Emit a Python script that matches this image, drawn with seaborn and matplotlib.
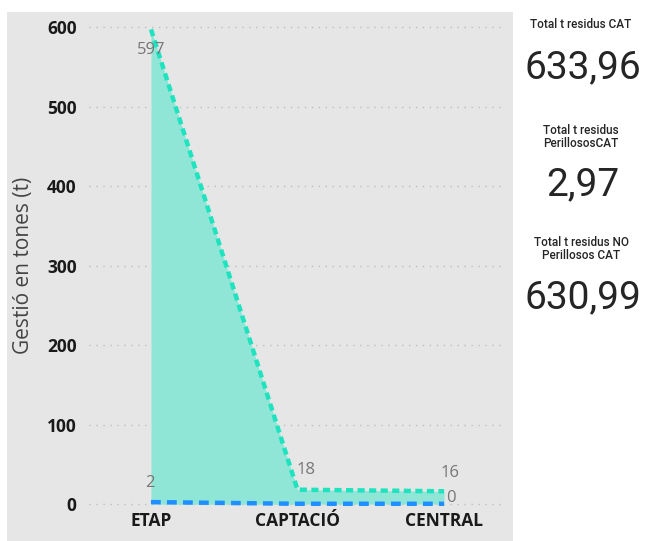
import matplotlib
matplotlib.use("Agg")
import matplotlib.pyplot as plt
import seaborn as sns
import pandas as pd
from matplotlib.patches import Rectangle

# Waste management per installation type (tonnes)
categories = ["ETAP", "CAPTACIÓ", "CENTRAL"]
no_perillosos = [597, 18, 16]
perillosos = [2.4, 0.3, 0.27]

label_no_perillosos = ["597", "18", "16"]
label_perillosos = ["2", "", "0"]

kpi_titles = ["Total t residus CAT", "Total t residus\nPerillososCAT",
              "Total t residus NO\nPerillosos CAT"]
kpi_values = ["633,96", "2,97", "630,99"]

y_ticks = [0, 100, 200, 300, 400, 500, 600]

teal_line = "#1fe3bf"
teal_fill = "#8fe6d6"
blue_line = "#1f8fff"
panel_bg = "#e6e6e6"

sns.set_theme(style="white")
plt.rcParams["font.family"] = ["Open Sans", "DejaVu Sans"]

W, H = 646, 541
fig = plt.figure(figsize=(W / 100, H / 100), dpi=100)
fig.patch.set_facecolor("white")

# grey visual panel behind the chart
fig.patches.append(Rectangle((7 / W, 0), (513 - 7) / W, (H - 12) / H,
                             transform=fig.transFigure, facecolor=panel_bg,
                             edgecolor="none", zorder=-5))

left_px, right_px = 89, 505
ylo, yhi = -5, 610
ppu = (504 - 27) / 600.0
bottom_px = 504 + (0 - ylo) * ppu
top_px = 27 - (yhi - 600) * ppu
ax = fig.add_axes([left_px / W, (H - bottom_px) / H,
                   (right_px - left_px) / W, (bottom_px - top_px) / H])
ax.set_facecolor("none")
ax.set_zorder(2)

df = pd.DataFrame({
    "pos": list(range(len(categories))) * 2,
    "valor": no_perillosos + perillosos,
    "serie": ["NO perillosos"] * 3 + ["Perillosos"] * 3,
})

x = list(range(len(categories)))
ax.fill_between(x, 0, no_perillosos, color=teal_fill, lw=0, zorder=1)
ax.fill_between(x, 0, perillosos, color=teal_fill, lw=0, zorder=1)

sns.lineplot(data=df, x="pos", y="valor", hue="serie", style="serie",
             palette={"NO perillosos": teal_line, "Perillosos": blue_line},
             dashes={"NO perillosos": (1.6, 1.0), "Perillosos": (2.2, 1.4)},
             linewidth=3.2, legend=False, ax=ax, zorder=3)
for ln in ax.lines:
    ln.set_clip_on(False)
    ln.set_dash_capstyle("butt")

ax.set_xlim(-0.423, 2.416)
ax.set_ylim(ylo, yhi)
ax.set_xticks(x)
ax.set_xticklabels(categories, fontsize=12.5, fontweight="bold", color="#1a1a1a")
ax.set_yticks(y_ticks)
ax.set_yticklabels([str(t) for t in y_ticks], fontsize=12.5, fontweight="bold",
                   color="#1a1a1a")
ax.tick_params(axis="both", length=0)
ax.tick_params(axis="x", pad=3)
ax.tick_params(axis="y", pad=9)
ax.yaxis.grid(True, linestyle=(0, (1, 4)), color="#bdbdbd", linewidth=1)
ax.xaxis.grid(False)
for s in ax.spines.values():
    s.set_visible(False)
ax.set_xlabel("")
ax.set_ylabel("Gestió en tones (t)", fontsize=15, color="#444444")
ax.yaxis.set_label_coords(-0.133, 0.497)

# data labels
lab_kw = dict(fontsize=12, color="#777777", zorder=5)
ax.annotate(label_no_perillosos[0], (0, no_perillosos[0]), xytext=(0, -15),
            textcoords="offset points", ha="center", va="center", **lab_kw)
ax.annotate(label_no_perillosos[1], (1, no_perillosos[1]), xytext=(6, 14),
            textcoords="offset points", ha="center", va="center", **lab_kw)
ax.annotate(label_no_perillosos[2], (2, no_perillosos[2]), xytext=(4, 13),
            textcoords="offset points", ha="center", va="center", **lab_kw)
ax.annotate(label_perillosos[0], (0, perillosos[0]), xytext=(-1, 14),
            textcoords="offset points", ha="center", va="center", **lab_kw)
ax.annotate(label_perillosos[2], (2, perillosos[2]), xytext=(5, 4),
            textcoords="offset points", ha="center", va="center", **lab_kw)

# KPI cards on the right
kpi_title_y = [24, 137, 249]
kpi_value_y = [68, 185, 298]
for t, v, ty, vy in zip(kpi_titles, kpi_values, kpi_title_y, kpi_value_y):
    fig.text(581 / W, 1 - ty / H, t, ha="center", va="center", fontsize=8.5,
             fontweight="medium", color="#252525", family=["Roboto", "DejaVu Sans"],
             linespacing=1.05)
    fig.text(583 / W, 1 - vy / H, v, ha="center", va="center", fontsize=28,
             color="#252525", family=["Roboto", "DejaVu Sans"])

fig.savefig("out.png", dpi=100, facecolor="white")
